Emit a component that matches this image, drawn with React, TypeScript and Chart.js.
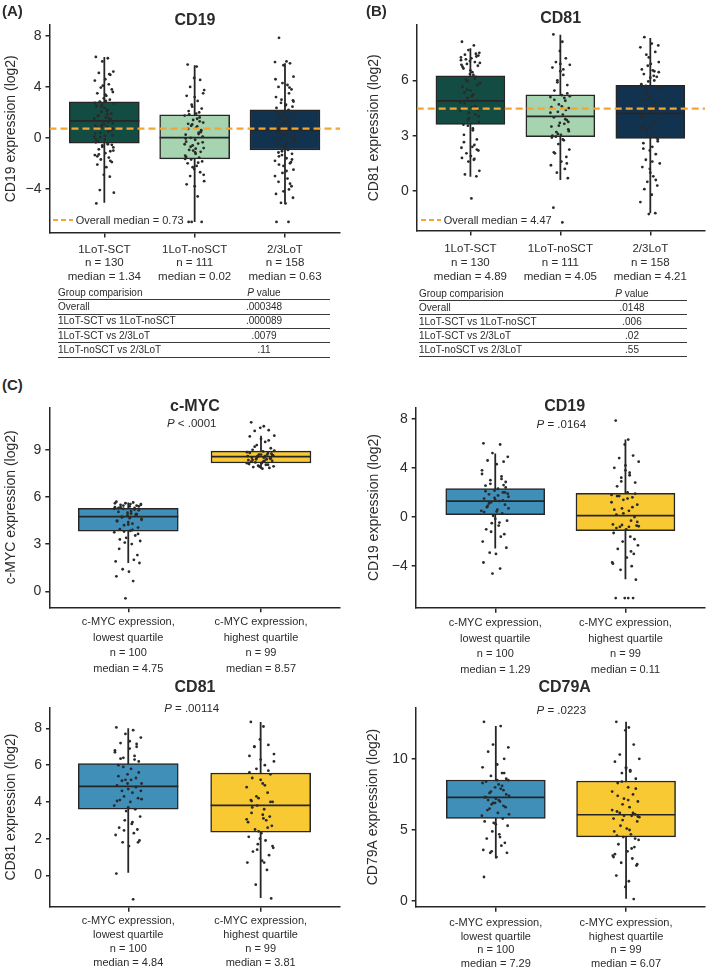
import React, { useEffect, useRef } from 'react';
import { Chart, registerables } from 'chart.js';
Chart.register(...registerables);

const FONT = '"Liberation Sans", Arial, Helvetica, sans-serif';
const INK = '#262626';
const TXT = '#2b2b2b';
const ORANGE = '#f5a631';
const DARK_GREEN = '#134c42';
const LIGHT_GREEN = '#a6d3b0';
const NAVY = '#12334f';
const BLUE = '#3f8fb9';
const YELLOW = '#f9c933';

// ---------- Panel A: CD19 by line of therapy ----------
const A_CATS = ['1LoT-SCT', '1LoT-noSCT', '2/3LoT'];
const A_N = [130, 111, 158];
const A_MEDIAN = [1.34, 0.02, 0.63];
const A_Q1 = [-0.42, -1.65, -0.95];
const A_Q3 = [2.82, 1.8, 2.2];
const A_LO = [-5.1, -6.6, -5.1];
const A_HI = [6.35, 5.7, 5.85];
const A_OVERALL = 0.73;
const A_TICKS = [-4, 0, 4, 8];
const A_PTS_SCT = [6.35, 6.25, 6.0, 5.2, 5.1, 4.95, 4.6, 4.5, 4.2, 3.95, 3.8, 3.5, 3.3, 3.1, 3.0, 2.85, 2.7, 2.5, 2.35, 2.2, 2.05, 1.9, 1.75, 1.6, 1.5, 1.4, 1.3, 1.15, 1.0, 0.9, 0.8, 0.65, 0.5, 0.35, 0.2, 0.05, -0.15, -0.35, -0.5, -0.6, -0.75, -0.9, -1.05, -1.2, -1.35, -1.55, -1.7, -1.9, -2.1, -2.3, -2.9, -3.05, -4.1, -4.3, -5.15, 1.1, 1.85, 2.45, 0.6, -0.25, 2.9, 0.1,
  5.0, 4.1, 3.6, 2.6, 2.1, 1.7, 1.45, 1.25, 0.95, 0.75, 0.4, 0.15, -0.1, -0.45, -0.7, -1.0, -1.3, -1.8, 3.4, 2.75, 1.55, 0.85, -0.55, -1.45];
const A_PTS_NOSCT = [5.75, 5.6, 4.7, 4.55, 4.0, 3.75, 3.3, 3.2, 2.9, 2.6, 2.3, 2.1, 1.9, 1.75, 1.6, 1.4, 1.2, 1.05, 0.9, 0.7, 0.55, 0.4, 0.25, 0.1, 0.0, -0.15, -0.3, -0.45, -0.6, -0.8, -0.95, -1.1, -1.25, -1.4, -1.55, -1.7, -1.85, -2.0, -2.2, -2.45, -2.7, -3.0, -3.4, -3.65, -3.8, -4.6, -6.6, -6.6, -6.6, 0.8, -0.5, 1.3, -1.0,
  3.5, 2.45, 1.5, 1.1, 0.6, 0.3, -0.05, -0.35, -0.7, -1.15, -1.5, -1.95, -2.3, -2.9, 1.85, 0.45, -0.85, -1.65, 2.0, 0.95];
const A_PTS_23 = [7.85, 6.0, 5.95, 5.85, 5.7, 4.8, 4.3, 4.15, 4.0, 3.8, 3.5, 3.2, 2.95, 2.75, 2.55, 2.35, 2.2, 2.0, 1.8, 1.6, 1.45, 1.3, 1.1, 0.95, 0.8, 0.65, 0.5, 0.35, 0.2, 0.05, -0.1, -0.3, -0.5, -0.7, -0.9, -1.05, -1.25, -1.45, -1.6, -1.8, -2.0, -2.2, -2.5, -2.75, -3.2, -3.45, -3.8, -4.05, -4.4, -4.7, -5.1, -5.15, -6.6, -6.6, 1.7, -0.2, 0.9, -1.9, 2.6,
  4.6, 3.95, 3.0, 2.45, 1.95, 1.55, 1.2, 0.75, 0.45, 0.15, -0.15, -0.6, -0.95, -1.35, -1.7, -2.1, -2.6, -3.0, -3.6, -4.2, 2.85, 1.0, -0.4, -1.15];
const A_ROWS = ['Overall', '1LoT-SCT vs 1LoT-noSCT', '1LoT-SCT vs 2/3LoT', '1LoT-noSCT vs 2/3LoT'];
const A_PVALS = ['.000348', '.000089', '.0079', '.11'];

// ---------- Panel B: CD81 by line of therapy ----------
const B_MEDIAN = [4.89, 4.05, 4.21];
const B_Q1 = [3.62, 2.95, 2.86];
const B_Q3 = [6.25, 5.22, 5.74];
const B_LO = [0.78, 0.6, -1.21];
const B_HI = [7.75, 8.48, 8.3];
const B_OVERALL = 4.47;
const B_TICKS = [0, 3, 6];
const B_PTS_SCT = [8.1, 7.9, 7.65, 7.5, 7.4, 7.3, 7.2, 7.1, 7.0, 6.9, 6.8, 6.65, 6.45, 6.35, 6.2, 6.05, 5.85, 5.65, 5.45, 5.25, 5.05, 4.9, 4.75, 4.55, 4.35, 4.15, 3.95, 3.75, 3.55, 3.3, 3.05, 2.8, 2.5, 2.35, 2.2, 2.05, 1.9, 1.8, 1.7, 1.6, 1.1, 0.9, 0.8, -0.4, 7.25, 6.1, 5.5, 4.4, 3.6, 2.4, 7.05,
  7.45, 7.15, 6.95, 6.75, 6.55, 6.3, 5.95, 5.75, 5.35, 5.15, 4.8, 4.6, 4.25, 4.05, 3.85, 3.4, 2.65, 2.25, 1.75, 6.85, 7.35];
const B_PTS_NOSCT = [8.5, 8.1, 7.6, 7.2, 7.0, 6.85, 6.7, 6.5, 6.3, 6.0, 5.75, 5.45, 5.2, 5.1, 4.9, 4.7, 4.5, 4.3, 4.15, 4.0, 3.85, 3.65, 3.5, 3.35, 3.2, 3.05, 2.9, 2.75, 2.55, 2.25, 2.05, 1.85, 1.6, 1.4, 1.2, 1.0, 0.7, -0.9, -1.7, 3.7, 4.4, 2.95, 5.15, 3.0,
  6.9, 6.6, 5.9, 5.3, 4.95, 4.6, 4.25, 3.9, 3.55, 3.25, 3.1, 2.8, 2.1, 1.5, 5.05, 4.55, 3.75];
const B_PTS_23 = [8.35, 8.0, 7.8, 7.55, 7.25, 7.0, 6.8, 6.55, 6.35, 6.2, 6.0, 5.8, 5.6, 5.4, 5.1, 4.9, 4.7, 4.5, 4.25, 4.05, 3.85, 3.6, 3.4, 3.2, 3.0, 2.8, 2.6, 2.4, 2.2, 2.0, 1.7, 1.5, 1.3, 1.0, 0.8, 0.5, 0.3, 0.1, -0.2, -0.6, -1.2, -1.25, 6.45, 5.0, 4.6, 3.55, 2.9, 6.5, 4.0,
  7.9, 7.4, 6.9, 6.6, 6.25, 5.95, 5.55, 5.25, 4.8, 4.35, 4.1, 3.7, 3.3, 2.7, 2.3, 1.6, 1.2, 0.6, 5.7, 4.5, 3.45, 6.15];
const B_PVALS = ['.0148', '.006', '.02', '.55'];

// ---------- Panel C: by c-MYC quartile ----------
const C_CATS = ['c-MYC expression,|lowest quartile', 'c-MYC expression,|highest quartile'];
const C_N = [100, 99];

const CM_MEDIAN = [4.75, 8.57];
const CM_Q1 = [3.83, 8.16];
const CM_Q3 = [5.28, 8.92];
const CM_LO = [1.8, 7.8];
const CM_HI = [5.65, 9.9];
const CM_TICKS = [0, 3, 6, 9];
const CM_PTS_LOW = [5.7, 5.65, 5.6, 5.55, 5.5, 5.45, 5.4, 5.35, 5.3, 5.25, 5.15, 5.05, 4.95, 4.85, 4.8, 4.7, 4.6, 4.5, 4.4, 4.3, 4.2, 4.05, 3.95, 3.85, 3.75, 3.55, 3.4, 3.2, 3.1, 3.0, 2.7, 2.3, 2.0, 1.9, 1.8, 1.4, 1.25, 0.95, 0.65, -0.45, 5.5, 5.35, 4.9, 4.65, 5.6, 5.2,
  5.45, 5.4, 5.3, 5.1, 5.0, 4.9, 4.75, 4.55, 4.45, 4.25, 3.9, 3.8, 3.65, 3.3, 5.55, 5.25];
const CM_PTS_HIGH = [10.75, 10.5, 10.4, 10.25, 10.2, 9.9, 9.85, 9.7, 9.5, 9.3, 9.1, 9.0, 8.9, 8.85, 8.8, 8.7, 8.65, 8.6, 8.55, 8.5, 8.45, 8.4, 8.35, 8.3, 8.2, 8.15, 8.1, 8.05, 8.0, 7.95, 7.9, 7.85, 7.8, 8.6, 8.7, 8.4, 8.75, 8.25, 8.5, 7.9,
  9.6, 9.2, 8.95, 8.8, 8.7, 8.6, 8.5, 8.45, 8.35, 8.25, 8.15, 8.05, 7.95, 8.65, 8.55, 8.3];

const C19_MEDIAN = [1.29, 0.11];
const C19_Q1 = [0.2, -1.11];
const C19_Q3 = [2.32, 1.92];
const C19_LO = [-2.57, -5.07];
const C19_HI = [5.17, 6.3];
const C19_TICKS = [-4, 0, 4, 8];
const C19_PTS_LOW = [6.0, 5.9, 5.2, 4.9, 4.6, 4.5, 4.3, 3.5, 3.3, 3.0, 2.85, 2.55, 2.3, 2.15, 2.0, 1.85, 1.65, 1.5, 1.4, 1.3, 1.2, 1.0, 0.8, 0.6, 0.5, 0.3, 0.1, -0.3, -0.5, -0.7, -1.0, -1.4, -1.6, -2.0, -2.5, -2.9, -3.0, -3.7, -4.2, -4.6, 1.9, 0.9, 2.6, 0.45,
  3.8, 3.1, 2.7, 2.4, 2.1, 1.75, 1.55, 1.35, 1.1, 0.7, 0.4, -0.15, -0.45, -1.2, 2.0];
const C19_PTS_HIGH = [7.85, 6.3, 5.9, 5.0, 4.8, 4.5, 4.0, 3.8, 3.6, 3.2, 2.8, 2.5, 2.0, 1.8, 1.6, 1.4, 1.0, 0.7, 0.5, 0.2, 0.0, -0.3, -0.6, -0.7, -0.8, -1.0, -1.3, -1.6, -2.0, -2.3, -2.6, -3.0, -3.3, -3.7, -4.0, -4.3, -5.1, -6.6, -6.6, -6.6, -6.6, 1.7, -0.75, 0.6,
  4.2, 3.4, 2.9, 1.9, 1.7, 1.5, 1.2, 0.8, 0.3, -0.4, -0.65, -0.8, -0.9, -1.8, -2.8, -3.8];

const C81_MEDIAN = [4.84, 3.81];
const C81_Q1 = [3.6, 2.36];
const C81_Q3 = [6.08, 5.57];
const C81_LO = [0.14, -1.23];
const C81_HI = [8.0, 8.35];
const C81_TICKS = [0, 2, 4, 6, 8];
const C81_PTS_LOW = [8.05, 7.9, 7.7, 7.5, 7.2, 7.0, 6.9, 6.7, 6.5, 6.4, 6.2, 6.0, 5.8, 5.5, 5.3, 5.15, 5.0, 4.9, 4.7, 4.5, 4.3, 4.2, 4.1, 4.0, 3.8, 3.6, 3.5, 3.2, 3.0, 2.8, 2.6, 2.5, 2.3, 2.2, 1.9, 1.8, 1.6, 0.1, -1.3, 5.2, 4.6, 6.35, 7.15,
  7.3, 6.8, 6.3, 5.9, 5.6, 5.4, 5.2, 5.0, 4.8, 4.6, 4.15, 4.05, 3.7, 2.9, 2.45, 1.8];
const C81_PTS_HIGH = [8.35, 8.1, 7.4, 7.1, 7.0, 6.6, 6.5, 6.3, 6.0, 5.8, 5.5, 5.3, 5.0, 4.8, 4.5, 4.2, 4.0, 3.8, 3.6, 3.4, 3.2, 3.0, 2.9, 2.7, 2.5, 2.3, 2.1, 1.9, 1.7, 1.5, 1.3, 1.1, 0.8, 0.7, 0.3, -0.5, -1.25, 4.1, 3.1, 2.0, 5.7,
  7.0, 6.2, 5.6, 5.2, 4.9, 4.3, 4.0, 3.7, 3.3, 3.05, 2.6, 2.4, 1.6, 1.4, 0.7, 4.05];

const C79_MEDIAN = [7.29, 6.07];
const C79_Q1 = [5.82, 4.52];
const C79_Q3 = [8.51, 8.44];
const C79_LO = [3.0, 0.18];
const C79_HI = [12.3, 12.6];
const C79_TICKS = [0, 5, 10];
const C79_PTS_LOW = [12.6, 12.3, 11.0, 10.8, 10.5, 10.0, 9.6, 9.4, 9.0, 8.8, 8.6, 8.4, 8.2, 8.0, 7.8, 7.6, 7.4, 7.3, 7.2, 7.0, 6.8, 6.6, 6.4, 6.2, 6.0, 5.8, 5.5, 5.3, 4.9, 4.7, 4.4, 4.1, 3.9, 3.6, 3.4, 3.4, 3.1, 1.7, 7.9, 6.9, 8.5, 7.1,
  9.0, 8.5, 8.3, 8.1, 7.7, 7.5, 7.3, 7.1, 6.9, 6.7, 6.5, 6.1, 5.6, 5.4, 4.5, 3.5];
const C79_PTS_HIGH = [12.6, 12.2, 12.0, 11.0, 10.3, 10.0, 9.8, 9.4, 9.2, 9.0, 8.6, 8.3, 8.0, 7.7, 7.5, 7.2, 7.0, 6.8, 6.6, 6.3, 6.1, 6.0, 5.8, 5.6, 5.3, 5.1, 4.9, 4.7, 4.5, 4.3, 4.0, 3.8, 3.5, 3.2, 3.0, 2.7, 2.5, 1.8, 1.4, 1.0, 0.15, 6.2, 5.9, 3.3,
  9.3, 9.1, 8.4, 7.9, 7.4, 7.1, 6.4, 6.2, 6.0, 5.95, 5.7, 5.0, 4.6, 4.4, 3.7, 3.1, 2.6];

// fixed jitter pattern (fraction of jitter half-width)
const JITTER = [-0.85, 0.35, -0.2, 0.9, -0.55, 0.6, 0.1, -0.95, 0.45, -0.35, 0.75, -0.7, 0.2, -0.05, 0.55, -0.45, 0.95, -0.8, 0.0, 0.3, -0.3, 0.7, -0.6, 0.15, -1.0, 0.5, -0.15, 0.85, -0.25, 0.25, -0.65, 0.65, 0.4, -0.9, 0.8, -0.4, 0.05];

const fmt = (v: number) => (v < 0 ? '\u2212' + Math.abs(v) : String(v));

function abLabels(medians: number[]) {
  return A_CATS.map((c, i) => [c, 'n = ' + A_N[i], 'median = ' + medians[i].toFixed(2)]);
}
function cLabels(medians: number[]) {
  return C_CATS.map((c, i) => [...c.split('|'), 'n = ' + C_N[i], 'median = ' + medians[i].toFixed(2)]);
}

type BoxCfg = {
  left: number; top: number; width: number; height: number;
  plotLeft: number; plotRight: number; plotTop: number; plotBottom: number;
  xMin: number; xMax: number; yMin: number; yMax: number;
  yTicks: number[]; labels: string[][];
  q1: number[]; q3: number[]; med: number[]; lo: number[]; hi: number[];
  colors: string[]; boxPx: number; spacingPx: number; jitterPx: number;
  points: number[][]; overall?: number; yTitle: string;
  labelFont: number; labelLH: number; labelPad: number;
};

function BoxChart({ c }: { c: BoxCfg }) {
  const ref = useRef<HTMLCanvasElement>(null);
  useEffect(() => {
    if (!ref.current) return;
    const n = c.labels.length;
    const hw = c.boxPx / 2 / c.spacingPx;
    const js = c.jitterPx / c.spacingPx;
    const pts: any[] = [];
    c.points.forEach((arr, g) =>
      arr.forEach((y, i) => pts.push({ x: g + JITTER[(i + g * 11) % JITTER.length] * js, y }))
    );
    const whisk: any[] = [];
    const meds: any[] = [];
    for (let g = 0; g < n; g++) {
      whisk.push({ x: g, y: c.lo[g] }, { x: g, y: c.hi[g] }, { x: g, y: null });
      meds.push({ x: g - hw, y: c.med[g] }, { x: g + hw, y: c.med[g] }, { x: g, y: null });
    }
    const datasets: any[] = [];
    if (c.overall !== undefined) {
      datasets.push({
        type: 'line', data: [{ x: c.xMin, y: c.overall }, { x: c.xMax, y: c.overall }],
        borderColor: ORANGE, borderWidth: 2.2, borderDash: [7, 4], pointRadius: 0, order: 0,
      });
    }
    datasets.push({
      type: 'scatter', data: pts, pointRadius: 1.4, pointBackgroundColor: '#2a2a2a',
      pointBorderWidth: 0, order: 1,
    });
    datasets.push({ type: 'line', data: meds, borderColor: INK, borderWidth: 1.7, pointRadius: 0, order: 2 });
    datasets.push({
      type: 'bar', data: c.q1.map((q, g) => ({ x: g, y: [q, c.q3[g]] })),
      backgroundColor: c.colors, borderColor: INK, borderWidth: 1.5, borderSkipped: false,
      barThickness: c.boxPx, order: 3,
    });
    datasets.push({ type: 'line', data: whisk, borderColor: INK, borderWidth: 1.8, pointRadius: 0, order: 4 });

    const gridCommon = { display: true, drawOnChartArea: false, drawTicks: true, color: INK, lineWidth: 1.5, offset: false };
    const chart = new Chart(ref.current, {
      type: 'bar',
      data: { datasets },
      options: {
        responsive: false,
        animation: false,
        events: [],
        layout: {
          padding: {
            top: c.plotTop - c.top, right: c.left + c.width - c.plotRight, left: 0, bottom: 0,
          },
        },
        plugins: { legend: { display: false }, tooltip: { enabled: false }, title: { display: false } },
        scales: {
          x: {
            type: 'linear', min: c.xMin, max: c.xMax, offset: false,
            afterBuildTicks: (s: any) => { s.ticks = c.labels.map((_, i) => ({ value: i })); },
            afterFit: (s: any) => { s.height = c.top + c.height - c.plotBottom; },
            grid: { ...gridCommon, tickLength: 5 },
            border: { display: true, color: INK, width: 1.5 },
            ticks: {
              color: TXT, autoSkip: false, maxRotation: 0, minRotation: 0, padding: c.labelPad,
              font: { family: FONT, size: c.labelFont, lineHeight: c.labelLH / c.labelFont },
              callback: (v: any) => c.labels[Math.round(v)],
            },
          },
          y: {
            type: 'linear', min: c.yMin, max: c.yMax,
            afterBuildTicks: (s: any) => { s.ticks = c.yTicks.map((v) => ({ value: v })); },
            afterFit: (s: any) => { s.width = c.plotLeft - c.left; },
            grid: { ...gridCommon, tickLength: 4 },
            border: { display: true, color: INK, width: 1.5 },
            ticks: { color: TXT, padding: 4, font: { family: FONT, size: 14 }, callback: (v: any) => fmt(v) },
            title: {
              display: true, text: c.yTitle, color: TXT,
              font: { family: FONT, size: 14 }, padding: { top: 3, bottom: 3 },
            },
          },
        } as any,
      },
    } as any);
    return () => chart.destroy();
  }, []);
  return (
    <canvas
      ref={ref}
      width={c.width}
      height={c.height}
      style={{ position: 'absolute', left: c.left, top: c.top, width: c.width, height: c.height }}
    />
  );
}

function CText({ x, y, text, size, bold, children }: any) {
  const h = Math.round(size * 1.3);
  return (
    <div
      style={{
        position: 'absolute', left: x - 150, width: 300, top: y - h / 2, height: h, lineHeight: h + 'px',
        textAlign: 'center', fontSize: size, fontWeight: bold ? 700 : 400, color: TXT, fontFamily: FONT,
        whiteSpace: 'nowrap',
      }}
    >
      {children ?? text}
    </div>
  );
}

function LText({ x, y, size, bold, children }: any) {
  const h = Math.round(size * 1.3);
  return (
    <div
      style={{
        position: 'absolute', left: x, top: y - h / 2, height: h, lineHeight: h + 'px',
        fontSize: size, fontWeight: bold ? 700 : 400, color: TXT, fontFamily: FONT, whiteSpace: 'nowrap',
      }}
    >
      {children}
    </div>
  );
}

function Legend({ x, y, value }: { x: number; y: number; value: number }) {
  return (
    <>
      <div
        style={{
          position: 'absolute', left: x, top: y - 1, width: 20, height: 2,
          background: `repeating-linear-gradient(to right, ${ORANGE} 0 5px, transparent 5px 8px)`,
        }}
      />
      <LText x={x + 23} y={y} size={11}>Overall median = {value.toFixed(2)}</LText>
    </>
  );
}

function PTable({ x0, x1, pc, top, rowH, rows, pvals }: any) {
  const all = [['Group comparision', null], ...rows.map((r: string, i: number) => [r, pvals[i]])];
  return (
    <>
      {all.map((r: any, i: number) => {
        const yTop = top + i * rowH;
        return (
          <React.Fragment key={i}>
            <LText x={x0} y={yTop + rowH / 2} size={10}>{r[0]}</LText>
            <CText x={pc} y={yTop + rowH / 2} size={10}>
              {i === 0 ? (<><i>P</i> value</>) : r[1]}
            </CText>
            <div style={{ position: 'absolute', left: x0, width: x1 - x0, top: yTop + rowH, height: 1, background: '#3a3a3a' }} />
          </React.Fragment>
        );
      })}
    </>
  );
}

const CHART_A: BoxCfg = {
  left: 0, top: 0, width: 345, height: 290,
  plotLeft: 49.5, plotRight: 340, plotTop: 25, plotBottom: 232.5,
  xMin: -0.607, xMax: 2.609, yMin: -7.43, yMax: 8.86, yTicks: A_TICKS, labels: abLabels(A_MEDIAN),
  q1: A_Q1, q3: A_Q3, med: A_MEDIAN, lo: A_LO, hi: A_HI,
  colors: [DARK_GREEN, LIGHT_GREEN, NAVY], boxPx: 70, spacingPx: 90.35, jitterPx: 10,
  points: [A_PTS_SCT, A_PTS_NOSCT, A_PTS_23], overall: A_OVERALL, yTitle: 'CD19 expression (log2)',
  labelFont: 11.5, labelLH: 13.5, labelPad: 5.5,
};
const CHART_B: BoxCfg = {
  left: 363, top: 0, width: 346, height: 290,
  plotLeft: 416.7, plotRight: 706.7, plotTop: 25, plotBottom: 230.5,
  xMin: -0.597, xMax: 2.608, yMin: -2.14, yMax: 9.01, yTicks: B_TICKS, labels: abLabels(B_MEDIAN),
  q1: B_Q1, q3: B_Q3, med: B_MEDIAN, lo: B_LO, hi: B_HI,
  colors: [DARK_GREEN, LIGHT_GREEN, NAVY], boxPx: 69, spacingPx: 90.5, jitterPx: 10,
  points: [B_PTS_SCT, B_PTS_NOSCT, B_PTS_23], overall: B_OVERALL, yTitle: 'CD81 expression (log2)',
  labelFont: 11.5, labelLH: 13.9, labelPad: 6.5,
};
const CHART_CM: BoxCfg = {
  left: 0, top: 395, width: 345, height: 285,
  plotLeft: 49.3, plotRight: 339.3, plotTop: 400, plotBottom: 607.3,
  xMin: -0.595, xMax: 1.59, yMin: -1.02, yMax: 11.7, yTicks: CM_TICKS, labels: cLabels(CM_MEDIAN),
  q1: CM_Q1, q3: CM_Q3, med: CM_MEDIAN, lo: CM_LO, hi: CM_HI,
  colors: [BLUE, YELLOW], boxPx: 100, spacingPx: 132.7, jitterPx: 14,
  points: [CM_PTS_LOW, CM_PTS_HIGH], yTitle: 'c-MYC expression (log2)',
  labelFont: 11, labelLH: 15.5, labelPad: 2.3,
};
const CHART_C19: BoxCfg = {
  left: 363, top: 395, width: 346, height: 285,
  plotLeft: 415.7, plotRight: 706.7, plotTop: 401.7, plotBottom: 607.7,
  xMin: -0.611, xMax: 1.611, yMin: -7.38, yMax: 8.92, yTicks: C19_TICKS, labels: cLabels(C19_MEDIAN),
  q1: C19_Q1, q3: C19_Q3, med: C19_MEDIAN, lo: C19_LO, hi: C19_HI,
  colors: [BLUE, YELLOW], boxPx: 99, spacingPx: 131, jitterPx: 14,
  points: [C19_PTS_LOW, C19_PTS_HIGH], yTitle: 'CD19 expression (log2)',
  labelFont: 11, labelLH: 15.5, labelPad: 2.8,
};
const CHART_C81: BoxCfg = {
  left: 0, top: 695, width: 345, height: 276,
  plotLeft: 50, plotRight: 339.3, plotTop: 700, plotBottom: 906.7,
  xMin: -0.591, xMax: 1.594, yMin: -1.7, yMax: 9.14, yTicks: C81_TICKS, labels: cLabels(C81_MEDIAN),
  q1: C81_Q1, q3: C81_Q3, med: C81_MEDIAN, lo: C81_LO, hi: C81_HI,
  colors: [BLUE, YELLOW], boxPx: 100, spacingPx: 132.4, jitterPx: 14,
  points: [C81_PTS_LOW, C81_PTS_HIGH], yTitle: 'CD81 expression (log2)',
  labelFont: 11, labelLH: 14.2, labelPad: 1.9,
};
const CHART_C79: BoxCfg = {
  left: 362, top: 695, width: 347, height: 276,
  plotLeft: 415.7, plotRight: 706.7, plotTop: 700, plotBottom: 906.7,
  xMin: -0.615, xMax: 1.606, yMin: -0.386, yMax: 13.61, yTicks: C79_TICKS, labels: cLabels(C79_MEDIAN),
  q1: C79_Q1, q3: C79_Q3, med: C79_MEDIAN, lo: C79_LO, hi: C79_HI,
  colors: [BLUE, YELLOW], boxPx: 99, spacingPx: 131, jitterPx: 14,
  points: [C79_PTS_LOW, C79_PTS_HIGH], yTitle: 'CD79A expression (log2)',
  labelFont: 11, labelLH: 13.9, labelPad: 4,
};

export default function App() {
  return (
    <div style={{ position: 'absolute', left: 0, top: 0, width: 709, height: 971, background: '#fff', fontFamily: FONT, overflow: 'hidden' }}>
      <BoxChart c={CHART_A} />
      <BoxChart c={CHART_B} />
      <BoxChart c={CHART_CM} />
      <BoxChart c={CHART_C19} />
      <BoxChart c={CHART_C81} />
      <BoxChart c={CHART_C79} />

      <LText x={2} y={10.5} size={15} bold>(A)</LText>
      <LText x={366} y={11} size={15} bold>(B)</LText>
      <LText x={2} y={385} size={15} bold>(C)</LText>

      <CText x={195} y={19.5} size={16} bold text="CD19" />
      <CText x={560.7} y={17.5} size={16} bold text="CD81" />
      <CText x={195} y={405} size={16} bold text="c-MYC" />
      <CText x={564.7} y={405} size={16} bold text="CD19" />
      <CText x={195} y={686.5} size={16} bold text="CD81" />
      <CText x={564.7} y={686} size={16} bold text="CD79A" />

      <CText x={191.7} y={423.3} size={11.5}><i>P</i> &lt; .0001</CText>
      <CText x={561.3} y={424.3} size={11.5}><i>P</i> = .0164</CText>
      <CText x={191.7} y={708.3} size={11.5}><i>P</i> = .00114</CText>
      <CText x={561.3} y={710} size={11.5}><i>P</i> = .0223</CText>

      <Legend x={52.7} y={220} value={A_OVERALL} />
      <Legend x={420.7} y={220} value={B_OVERALL} />

      <PTable x0={58} x1={330} pc={264} top={285} rowH={14.35} rows={A_ROWS} pvals={A_PVALS} />
      <PTable x0={419} x1={687} pc={632} top={286} rowH={14} rows={A_ROWS} pvals={B_PVALS} />
    </div>
  );
}
